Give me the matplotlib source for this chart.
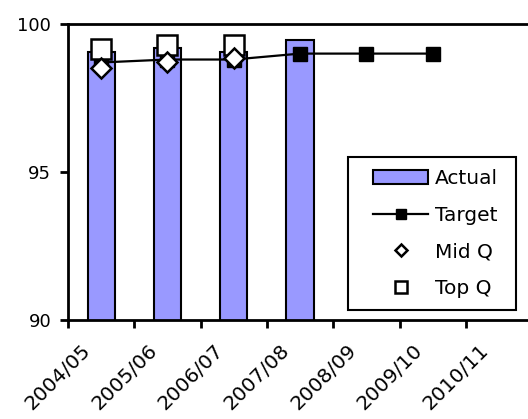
import matplotlib
matplotlib.use("Agg")
import matplotlib.pyplot as plt
from matplotlib.patches import Patch, Rectangle
from matplotlib.lines import Line2D
from matplotlib.legend_handler import HandlerPatch, HandlerLine2D

years = ["2004/05", "2005/06", "2006/07", "2007/08", "2008/09", "2009/10", "2010/11"]
actual = [99.05, 99.2, 99.05, 99.45]
target = [98.7, 98.8, 98.8, 99.0, 99.0, 99.0]
mid_q = [98.52, 98.7, 98.85]
top_q = [99.15, 99.3, 99.3]

plt.rcParams["font.family"] = "DejaVu Sans"
fig = plt.figure(figsize=(5.28, 4.19), dpi=100)
ax = fig.add_axes([68 / 528, 1 - 320 / 419, 460 / 528, 296 / 419])

x = list(range(len(years)))
ax.bar(x[:len(actual)], actual, width=0.41, color="#9999FF", edgecolor="black",
       linewidth=1.5, zorder=2)
ax.plot(x[:len(target)], target, color="black", linewidth=1.6, marker="s",
        markersize=10.5, markerfacecolor="black", zorder=3)
ax.plot(x[:len(top_q)], top_q, linestyle="none", marker="s", markersize=14.5,
        markerfacecolor="white", markeredgecolor="black", markeredgewidth=1.8, zorder=4)
ax.plot(x[:len(mid_q)], mid_q, linestyle="none", marker="D", markersize=10.5,
        markerfacecolor="white", markeredgecolor="black", markeredgewidth=1.8, zorder=5)

ax.set_ylim(90, 100)
ax.set_yticks([90, 95, 100])
ax.set_xlim(-0.5, -0.5 + 460 / 66.3)
# category boundaries carry the tick marks, labels sit just left of the centres
ax.set_xticks([i - 0.5 for i in x])
ax.set_xticklabels([])
ax.set_xticks([i - 0.2 for i in x], minor=True)
ax.set_xticklabels(years, minor=True, rotation=45, ha="right", va="center",
                   rotation_mode="anchor", fontsize=14.5)
ax.tick_params(axis="x", which="minor", length=0, pad=20)
ax.tick_params(axis="x", which="major", length=6, width=2, direction="out")
ax.tick_params(axis="y", length=6, width=2, direction="out", labelsize=13, pad=6)

for side in ["left", "bottom", "top"]:
    ax.spines[side].set_linewidth(2)
ax.spines["right"].set_visible(False)

handles = [
    Patch(facecolor="#9999FF", edgecolor="black", linewidth=1.5),
    Line2D([], [], color="black", linewidth=1.6, marker="s", markersize=7.5),
    Line2D([], [], linestyle="none", marker="D", markersize=6.5, markerfacecolor="white",
           markeredgecolor="black", markeredgewidth=1.8),
    Line2D([], [], linestyle="none", marker="s", markersize=8.5, markerfacecolor="white",
           markeredgecolor="black", markeredgewidth=1.8),
]
leg = ax.legend(handles, ["Actual", "Target", "Mid Q", "Top Q"],
                handler_map={Patch: HandlerPatch(xpad=0.65), Line2D: HandlerLine2D(xpad=0.65)},
                loc="upper left", bbox_to_anchor=(348 / 528, 1 - 157 / 419),
                bbox_transform=fig.transFigure, fontsize=14.5, frameon=False,
                handlelength=3.38, handletextpad=0.35, labelspacing=0.88,
                borderpad=0.6, borderaxespad=0)
leg.set_zorder(7)

# legend box drawn separately so its size is fixed
ax.add_patch(Rectangle((348 / 528, 1 - 310 / 419), 168 / 528, 153 / 419,
                       transform=fig.transFigure, facecolor="white",
                       edgecolor="black", linewidth=1.5, zorder=6, clip_on=False))

fig.savefig("out.png", dpi=100)
